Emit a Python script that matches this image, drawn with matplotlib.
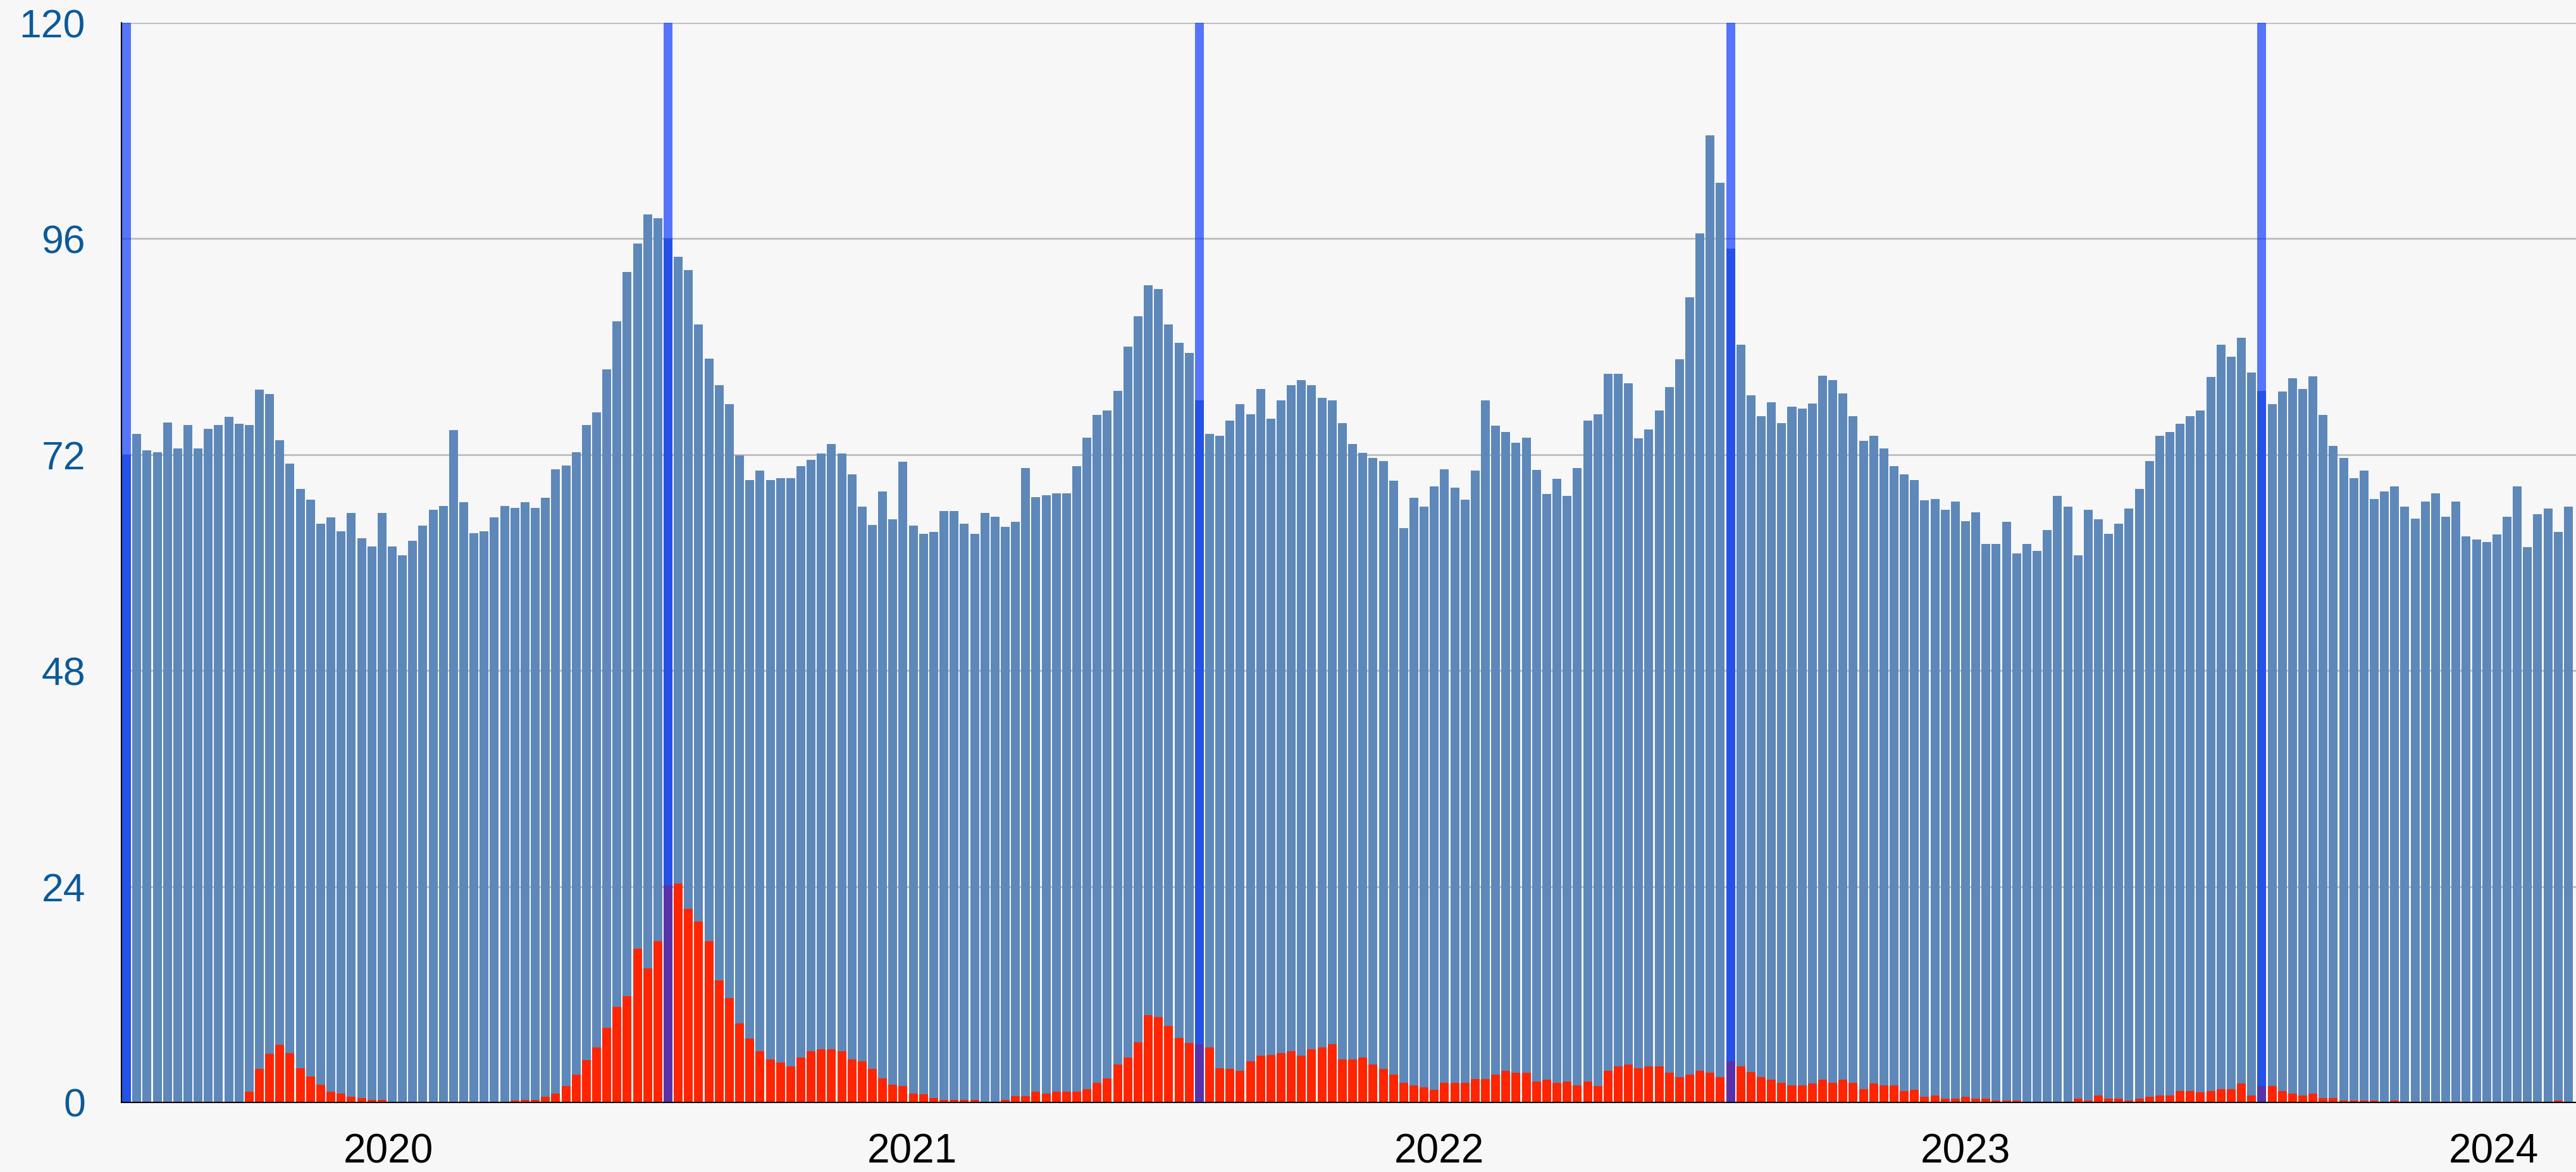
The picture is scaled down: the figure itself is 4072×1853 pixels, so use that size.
import numpy as np
import matplotlib
matplotlib.use("Agg")
from matplotlib import pyplot as plt

# weekly values, one bar per week
total = [
    72.0, 74.3, 72.5, 72.3, 75.6, 72.7, 75.3, 72.7, 74.9, 75.3,
    76.2, 75.4, 75.3, 79.2, 78.7, 73.6, 71.0, 68.2, 67.0, 64.3,
    65.0, 63.5, 65.5, 62.7, 61.8, 65.5, 61.8, 60.8, 62.4, 64.1,
    65.9, 66.3, 74.7, 66.7, 63.3, 63.5, 65.0, 66.3, 66.1, 66.7,
    66.1, 67.2, 70.4, 70.8, 72.3, 75.3, 76.7, 81.5, 86.8, 92.3,
    95.5, 98.7, 98.3, 96.0, 94.0, 92.5, 86.5, 82.7, 79.7, 77.6,
    71.9, 69.2, 70.2, 69.2, 69.4, 69.4, 70.7, 71.4, 72.1, 73.2,
    72.1, 69.8, 66.2, 64.2, 67.9, 64.8, 71.2, 64.1, 63.2, 63.4,
    65.7, 65.7, 64.3, 63.2, 65.5, 65.1, 64.0, 64.5, 70.5, 67.3,
    67.5, 67.7, 67.7, 70.7, 73.9, 76.4, 76.9, 79.1, 84.0, 87.4,
    90.8, 90.4, 86.5, 84.4, 83.3, 78.0, 74.3, 74.1, 75.8, 77.6,
    76.5, 79.3, 76.0, 78.0, 79.7, 80.3, 79.7, 78.3, 78.0, 75.5,
    73.2, 72.2, 71.6, 71.3, 69.1, 63.8, 67.2, 66.2, 68.5, 70.4,
    68.3, 67.0, 70.2, 78.0, 75.2, 74.5, 73.3, 73.9, 70.3, 67.6,
    69.3, 67.4, 70.5, 75.8, 76.5, 81.0, 81.0, 79.9, 73.8, 74.8,
    76.9, 79.5, 82.6, 89.5, 96.6, 107.5, 102.2, 94.9, 84.2, 78.6,
    76.3, 77.8, 75.5, 77.3, 77.1, 77.7, 80.8, 80.3, 78.8, 76.3,
    73.5, 74.1, 72.7, 70.7, 69.8, 69.2, 66.9, 67.1, 65.9, 66.8,
    64.6, 65.6, 62.1, 62.1, 64.5, 61.0, 62.1, 61.3, 63.6, 67.4,
    66.2, 60.8, 65.9, 64.8, 63.2, 64.3, 66.0, 68.2, 71.3, 74.1,
    74.5, 75.4, 76.3, 76.9, 80.6, 84.2, 82.9, 85.0, 81.1, 79.1,
    77.6, 79.0, 80.5, 79.3, 80.7, 76.4, 73.0, 71.6, 69.4, 70.2,
    67.1, 67.9, 68.5, 66.2, 64.9, 66.8, 67.7, 65.1, 66.8, 62.9,
    62.6, 62.3, 63.1, 65.1, 68.5, 61.7, 65.4, 66.0, 63.4, 66.2,
]

covid = [
    0, 0, 0, 0, 0, 0, 0, 0, 0, 0,
    0, 0, 1.2, 3.7, 5.4, 6.4, 5.5, 3.8, 2.9, 2.0,
    1.2, 1.0, 0.6, 0.5, 0.3, 0.3, 0, 0, 0, 0,
    0, 0, 0, 0, 0, 0, 0, 0, 0.2, 0.3,
    0.3, 0.6, 1.0, 1.8, 3.1, 4.7, 6.1, 8.3, 10.6, 11.8,
    17.1, 14.9, 17.9, 24.1, 24.3, 21.5, 20.1, 17.9, 13.6, 11.6,
    8.8, 7.1, 5.7, 4.8, 4.4, 4.0, 5.0, 5.7, 5.9, 5.9,
    5.7, 4.8, 4.6, 3.7, 2.7, 2.0, 1.8, 1.0, 0.9, 0.5,
    0.3, 0.3, 0.3, 0.3, 0.1, 0.1, 0.3, 0.7, 0.7, 1.2,
    1.0, 1.2, 1.2, 1.2, 1.5, 2.2, 2.7, 4.2, 5.0, 6.7,
    9.7, 9.5, 8.5, 7.2, 6.6, 6.5, 6.1, 3.8, 3.7, 3.5,
    4.6, 5.2, 5.3, 5.5, 5.7, 5.2, 5.9, 6.1, 6.5, 4.8,
    4.8, 5.0, 4.2, 3.7, 3.1, 2.2, 1.9, 1.7, 1.4, 2.2,
    2.2, 2.2, 2.6, 2.6, 3.1, 3.5, 3.3, 3.3, 2.3, 2.5,
    2.2, 2.3, 1.9, 2.3, 1.8, 3.5, 4.0, 4.2, 3.8, 4.0,
    4.0, 3.3, 2.8, 3.1, 3.5, 3.3, 2.8, 4.6, 4.0, 3.4,
    2.8, 2.5, 2.2, 1.9, 1.9, 2.1, 2.5, 2.2, 2.5, 2.2,
    1.5, 2.1, 1.9, 1.9, 1.3, 1.4, 0.6, 0.8, 0.4, 0.4,
    0.6, 0.4, 0.4, 0.2, 0.2, 0.2, 0, 0, 0, 0,
    0, 0.4, 0.2, 0.8, 0.4, 0.4, 0.2, 0.4, 0.6, 0.8,
    0.8, 1.3, 1.3, 1.1, 1.3, 1.5, 1.5, 2.1, 0.8, 1.8,
    1.8, 1.3, 1.0, 0.8, 1.0, 0.5, 0.5, 0.2, 0.2, 0.2,
    0.2, 0, 0.2, 0, 0, 0, 0, 0, 0, 0,
    0, 0, 0, 0, 0, 0, 0, 0, 0.2, 0,
]

# weeks marked with a highlight line
marked_weeks = [0, 53, 105, 157, 209]

years = ["2020", "2021", "2022", "2023", "2024"]
year_pos = [25.6, 76.9, 128.5, 180.0, 231.7]

y_ticks = [0, 24, 48, 72, 96, 120]

BG = "#f7f7f7"
BLUE = "#5d88b9"
RED = "#ff2500"
MARK = "#0a38fd"
BAR_W = 0.867

plt.rcParams["font.family"] = ["Liberation Sans", "DejaVu Sans"]

fig = plt.figure(figsize=(40.72, 18.53), dpi=100, facecolor=BG)
ax = fig.add_axes([192 / 4072, 110 / 1853, 3880 / 4072, 1707 / 1853])
ax.set_facecolor(BG)

x = np.arange(len(total))
ax.bar(x, total, width=BAR_W, color=BLUE, zorder=2)
ax.bar(x, covid, width=BAR_W, color=RED, zorder=3)
ax.bar(marked_weeks, [y_ticks[-1]] * len(marked_weeks), width=BAR_W,
       color=MARK, alpha=0.68, zorder=4)

ax.set_xlim(-0.5, 239.75)
ax.set_ylim(0, 120)

ax.set_yticks(y_ticks)
ax.set_yticklabels([str(v) for v in y_ticks])
ax.set_xticks(year_pos)
ax.set_xticklabels(years)

ax.tick_params(axis="y", length=0, pad=41, labelsize=45, labelcolor="#0b5a98")
ax.tick_params(axis="x", length=0, pad=35, labelsize=46, labelcolor="black")

ax.yaxis.grid(True, color="#bdbdbd", linewidth=2, zorder=1)
ax.set_axisbelow(True)

for side in ["top", "right"]:
    ax.spines[side].set_visible(False)
for side in ["left", "bottom"]:
    ax.spines[side].set_color("black")
    ax.spines[side].set_linewidth(1.5)
    ax.spines[side].set_zorder(5)

fig.savefig("out.png", dpi=100, facecolor=BG)
